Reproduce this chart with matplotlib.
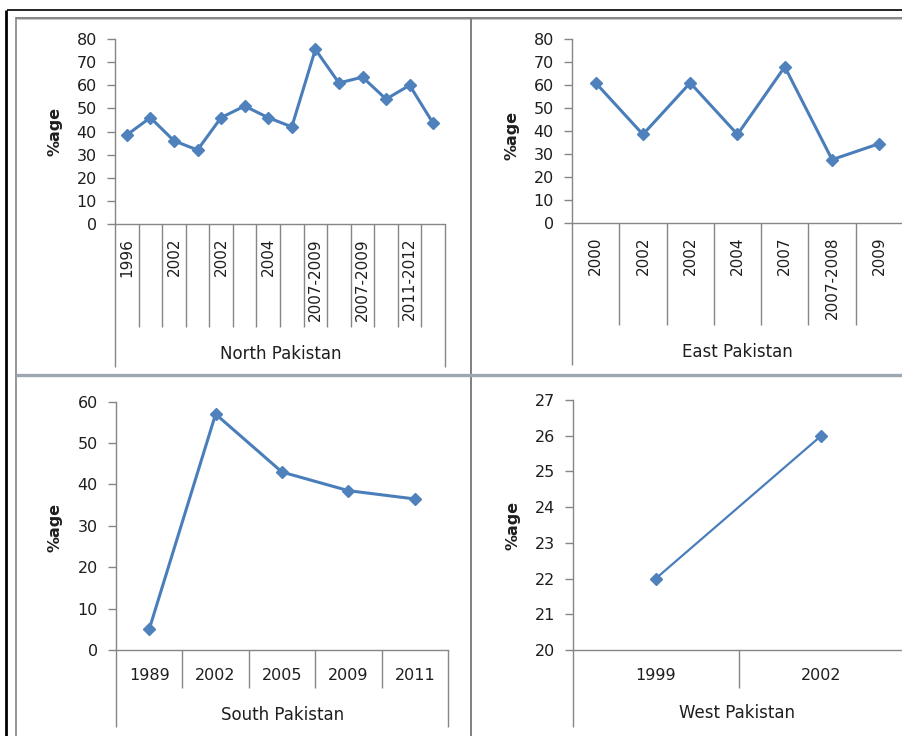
import numpy as np
import matplotlib
matplotlib.use("Agg")
import matplotlib.pyplot as plt
from matplotlib.lines import Line2D

W, H, DPI = 902, 736, 100

# Survey results by region (% of respondents)
north_labels = ["1996", "", "2002", "", "2002", "", "2004", "",
                "2007-2009", "", "2007-2009", "", "2011-2012", ""]
north_values = [38.5, 46, 36, 32, 46, 51, 46, 42, 75.5, 61, 63.5, 54, 60, 43.5]

east_labels = ["2000", "2002", "2002", "2004", "2007", "2007-2008", "2009"]
east_values = [61, 38.5, 61, 38.5, 68, 27.5, 34.5]

south_labels = ["1989", "2002", "2005", "2009", "2011"]
south_values = [5, 57, 43, 38.5, 36.5]

west_labels = ["1999", "2002"]
west_values = [22, 26]

LINE_C = "#4A7EBB"
MARK_C = "#4F81BD"
AXIS_C = "#868686"
TEXT_C = "#1e1e1e"

plt.rcParams["font.family"] = ["DejaVu Sans"]

fig = plt.figure(figsize=(W / DPI, H / DPI), dpi=DPI)
fig.patch.set_facecolor("white")


def fx(x):
    return x / W


def fy(y):
    return 1 - y / H


def fig_line(x0, y0, x1, y1, color, lw):
    fig.add_artist(Line2D([fx(x0), fx(x1)], [fy(y0), fy(y1)],
                          transform=fig.transFigure, color=color,
                          linewidth=lw, solid_capstyle="butt"))


# page frame and chart-area borders
fig_line(7, 10, 902, 10, "black", 1.2)
fig_line(6, 9.5, 6, 736, "black", 2.0)
fig_line(16, 17, 16, 736, "#7a7a7a", 1.1)
fig_line(16, 17.5, 902, 17.5, "#7a7a7a", 1.3)
fig_line(17, 19, 902, 19, "#c8c8c8", 0.8)
fig_line(471, 17, 471, 736, "#7f7f7f", 1.4)
fig_line(16, 375, 902, 375, "#9ea6b2", 2.4)


def panel(l, r, t, b, labels, values, ylim, ystep, inner_y, outer_y,
          rotated, title, title_xy, ylabel_xy, lw, ms):
    ax = fig.add_axes([fx(l), fy(b), fx(r - l), (b - t) / H])
    n = len(values)
    x = np.arange(n)
    ax.plot(x, values, color=LINE_C, linewidth=lw, marker="D",
            markersize=ms, markerfacecolor=MARK_C, markeredgecolor=MARK_C,
            clip_on=False, zorder=3)
    ax.set_xlim(-0.5, n - 0.5)
    ax.set_ylim(*ylim)
    ax.set_yticks(np.arange(ylim[0], ylim[1] + 0.001, ystep))
    ax.yaxis.set_major_formatter(matplotlib.ticker.FormatStrFormatter("%d"))
    for s in ("top", "right"):
        ax.spines[s].set_visible(False)
    for s in ("left", "bottom"):
        ax.spines[s].set_color(AXIS_C)
        ax.spines[s].set_linewidth(1.0)
    ax.tick_params(axis="y", direction="out", length=6, width=1.0,
                   color=AXIS_C, pad=7, labelsize=11.5, labelcolor=TEXT_C)
    ax.set_xticks(x)
    if rotated:
        ax.set_xticklabels(labels, rotation=90, fontsize=11)
        ax.tick_params(axis="x", length=0, pad=10, labelcolor=TEXT_C)
    else:
        ax.set_xticklabels(labels, fontsize=11.5)
        ax.tick_params(axis="x", length=0, pad=13, labelcolor=TEXT_C)
    ax.patch.set_alpha(0)

    # category divider lines below the axis
    hpx = b - t
    d_in = -(inner_y - b) / hpx
    d_out = -(outer_y - b) / hpx
    bounds = np.arange(n + 1) - 0.5
    tr = ax.get_xaxis_transform()
    ax.vlines(bounds[1:-1], d_in, 0, transform=tr, colors=AXIS_C,
              linewidth=1.0, clip_on=False)
    ax.vlines([bounds[0], bounds[-1]], d_out, 0, transform=tr,
              colors=AXIS_C, linewidth=1.0, clip_on=False)

    fig.text(fx(title_xy[0]), fy(title_xy[1]), title, ha="center",
             va="center", fontsize=12, color=TEXT_C)
    fig.text(fx(ylabel_xy[0]), fy(ylabel_xy[1]), "%age", ha="center",
             va="center", rotation=90, fontsize=11.5, fontweight="bold",
             color=TEXT_C)
    return ax


panel(115, 445, 39, 224, north_labels, north_values, (0, 80), 10, 327, 367,
      True, "North Pakistan", (281, 354), (55, 131), 2.2, 6.5)
panel(572, 903, 39.3, 222.7, east_labels, east_values, (0, 80), 10, 325, 365,
      True, "East Pakistan", (737, 352), (512, 135), 2.2, 6.5)
panel(116, 448, 401.7, 650, south_labels, south_values, (0, 60), 10, 688, 727,
      False, "South Pakistan", (283, 715), (55, 527), 2.2, 6.5)
panel(573, 904, 400, 650, west_labels, west_values, (20, 27), 1, 688, 727,
      False, "West Pakistan", (737, 713), (513, 525), 1.6, 6.5)

fig.savefig("out.png", dpi=DPI, facecolor="white")
